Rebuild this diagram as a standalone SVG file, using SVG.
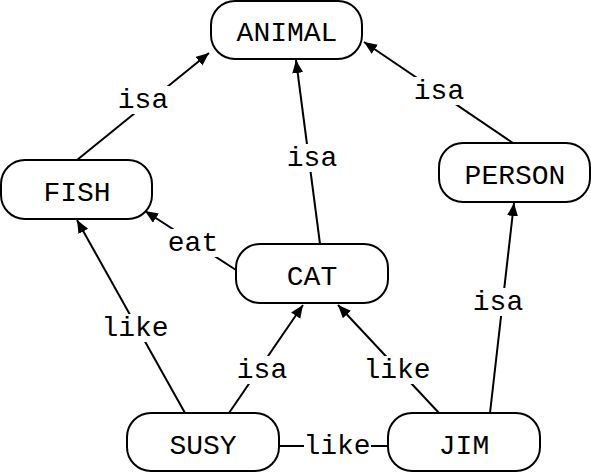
<svg xmlns="http://www.w3.org/2000/svg" width="591" height="473" viewBox="0 0 591 473">
<style>
.node rect{fill:#fff;stroke:#000;stroke-width:2}
text{font-family:"Liberation Mono","Courier New",monospace;font-size:28px;fill:#000;text-anchor:middle}
.edge line{stroke:#000;stroke-width:2}
.lbl{fill:#fff;stroke:none}
</style>
<defs>
<marker id="ah" markerUnits="userSpaceOnUse" markerWidth="14" markerHeight="12" refX="13" refY="5.5" orient="auto">
<path d="M0,0 L13,5.5 L0,11 Z" fill="#000"/>
</marker>
</defs>
<g id="connectors" class="edge">
<line x1="77" y1="160" x2="209" y2="53" marker-end="url(#ah)"/>
<line x1="320" y1="244" x2="296" y2="60" marker-end="url(#ah)"/>
<line x1="513" y1="143" x2="364" y2="42" marker-end="url(#ah)"/>
<line x1="236" y1="270" x2="145" y2="211" marker-end="url(#ah)"/>
<line x1="185" y1="413" x2="77" y2="220" marker-end="url(#ah)"/>
<line x1="229" y1="413" x2="303" y2="305" marker-end="url(#ah)"/>
<line x1="439" y1="413" x2="338" y2="305" marker-end="url(#ah)"/>
<line x1="490" y1="413" x2="514" y2="203" marker-end="url(#ah)"/>
<line x1="279" y1="446" x2="388" y2="446"/>
<rect class="lbl" x="118" y="86" width="52" height="28"/>
<text x="143" y="108">isa</text>
<rect class="lbl" x="286" y="144" width="52" height="28"/>
<text x="312" y="166">isa</text>
<rect class="lbl" x="413" y="77" width="52" height="28"/>
<text x="439" y="99">isa</text>
<rect class="lbl" x="167" y="229" width="52" height="28"/>
<text x="193" y="251">eat</text>
<rect class="lbl" x="100" y="314" width="70" height="28"/>
<text x="135" y="336">like</text>
<rect class="lbl" x="236" y="356" width="52" height="28"/>
<text x="262" y="378">isa</text>
<rect class="lbl" x="362" y="356" width="70" height="28"/>
<text x="397" y="378">like</text>
<rect class="lbl" x="472" y="288" width="52" height="28"/>
<text x="498" y="310">isa</text>
<rect class="lbl" x="304" y="432" width="67" height="28"/>
<text x="337" y="454">like</text>
</g>
<g id="ANIMAL" class="node"><rect x="211" y="1" width="151" height="58" rx="24"/><text x="287" y="41">ANIMAL</text></g>
<g id="FISH" class="node"><rect x="1" y="160" width="151" height="59" rx="24"/><text x="77" y="201">FISH</text></g>
<g id="PERSON" class="node"><rect x="439" y="143" width="151" height="59" rx="24"/><text x="515" y="184">PERSON</text></g>
<g id="CAT" class="node"><rect x="236" y="244" width="152" height="59" rx="24"/><text x="312" y="285">CAT</text></g>
<g id="SUSY" class="node"><rect x="127" y="413" width="152" height="58" rx="24"/><text x="203" y="454">SUSY</text></g>
<g id="JIM" class="node"><rect x="388" y="413" width="152" height="58" rx="24"/><text x="464" y="454">JIM</text></g>
</svg>
